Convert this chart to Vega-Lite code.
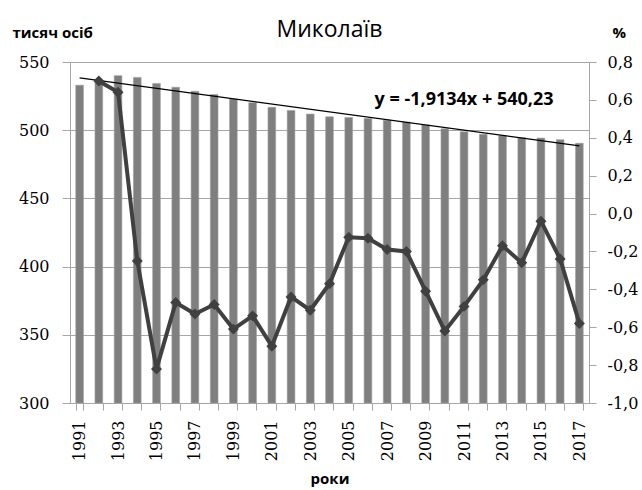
{
  "$schema": "https://vega.github.io/schema/vega-lite/v6.json",
  "width": 519,
  "height": 341,
  "autosize": {"type": "none"},
  "padding": {"left": 70, "top": 62, "right": 53, "bottom": 87},
  "background": "white",
  "config": {"view": {"stroke": null}},
  "title": {
    "text": "Миколаїв",
    "font": "Open Sans",
    "fontSize": 23,
    "fontWeight": "normal",
    "color": "#000000",
    "anchor": "middle",
    "offset": -17
  },
  "datasets": {
    "pop": [
      {"year": "1991", "pop": 533.0, "pct": null},
      {"year": "1992", "pop": 536.7, "pct": 0.70},
      {"year": "1993", "pop": 540.0, "pct": 0.64},
      {"year": "1994", "pop": 538.7, "pct": -0.25},
      {"year": "1995", "pop": 534.3, "pct": -0.82},
      {"year": "1996", "pop": 531.5, "pct": -0.47},
      {"year": "1997", "pop": 528.5, "pct": -0.53},
      {"year": "1998", "pop": 526.2, "pct": -0.48},
      {"year": "1999", "pop": 522.8, "pct": -0.61},
      {"year": "2000", "pop": 520.2, "pct": -0.54},
      {"year": "2001", "pop": 516.8, "pct": -0.70},
      {"year": "2002", "pop": 514.5, "pct": -0.44},
      {"year": "2003", "pop": 511.8, "pct": -0.51},
      {"year": "2004", "pop": 509.8, "pct": -0.37},
      {"year": "2005", "pop": 509.3, "pct": -0.125},
      {"year": "2006", "pop": 508.6, "pct": -0.13},
      {"year": "2007", "pop": 507.3, "pct": -0.19},
      {"year": "2008", "pop": 506.0, "pct": -0.20},
      {"year": "2009", "pop": 503.8, "pct": -0.41},
      {"year": "2010", "pop": 501.0, "pct": -0.62},
      {"year": "2011", "pop": 498.8, "pct": -0.49},
      {"year": "2012", "pop": 497.0, "pct": -0.35},
      {"year": "2013", "pop": 496.0, "pct": -0.17},
      {"year": "2014", "pop": 494.5, "pct": -0.26},
      {"year": "2015", "pop": 494.2, "pct": -0.04},
      {"year": "2016", "pop": 493.0, "pct": -0.24},
      {"year": "2017", "pop": 490.4, "pct": -0.58}
    ],
    "trend": [
      {"year": "1991", "trend": 538.32},
      {"year": "2017", "trend": 488.57}
    ],
    "eq": [
      {"year": "2011", "pop": 522, "label": "y = -1,9134x + 540,23"}
    ]
  },
  "layer": [
    {
      "layer": [
        {
          "data": {"name": "pop"},
          "mark": {"type": "bar", "color": "#7f7f7f", "stroke": "#a0a0a0", "strokeWidth": 0.6},
          "encoding": {
            "x": {
              "field": "year",
              "type": "ordinal",
              "scale": {"paddingInner": 0.6, "paddingOuter": 0.3},
              "axis": {
                "title": "роки",
                "titleFont": "Open Sans",
                "titleFontSize": 15,
                "titleFontWeight": "bold",
                "titleColor": "#000000",
                "titlePadding": 11,
                "labelAngle": -90,
                "labelAlign": "right",
                "labelBaseline": "middle",
                "labelFont": "DejaVu Serif",
                "labelFontSize": 16,
                "labelColor": "#000000",
                "labelPadding": 10,
                "labelExpr": "toNumber(datum.value) % 2 == 1 ? datum.value : ''",
                "tickBand": "extent",
                "tickSize": 7,
                "tickColor": "#a6a6a6",
                "domainColor": "#a6a6a6",
                "labelOverlap": false
              }
            },
            "y": {
              "field": "pop",
              "type": "quantitative",
              "scale": {"domain": [300, 550], "nice": false, "zero": false},
              "axis": {
                "title": "тисяч осіб",
                "titleFont": "Open Sans",
                "titleFontSize": 15,
                "titleFontWeight": "bold",
                "titleColor": "#000000",
                "titleAngle": 0,
                "titleAlign": "left",
                "titleBaseline": "middle",
                "titleX": -58,
                "titleY": -30,
                "values": [300, 350, 400, 450, 500, 550],
                "labelFont": "DejaVu Serif",
                "labelFontSize": 16,
                "labelColor": "#000000",
                "labelPadding": 13,
                "labelOverlap": false,
                "tickSize": 8,
                "tickColor": "#a6a6a6",
                "domainColor": "#a6a6a6",
                "grid": true,
                "gridColor": "#a6a6a6",
                "gridWidth": 1
              }
            },
            "y2": {"datum": 300}
          }
        },
        {
          "data": {"name": "trend"},
          "mark": {"type": "line", "color": "#000000", "strokeWidth": 1.2},
          "encoding": {
            "x": {"field": "year", "type": "ordinal"},
            "y": {"field": "trend", "type": "quantitative"}
          }
        },
        {
          "data": {"name": "eq"},
          "mark": {"type": "text", "font": "Open Sans", "fontSize": 18, "fontWeight": "bold", "color": "#000000", "align": "center", "baseline": "middle"},
          "encoding": {
            "x": {"field": "year", "type": "ordinal"},
            "y": {"field": "pop", "type": "quantitative"},
            "text": {"field": "label"}
          }
        }
      ]
    },
    {
      "data": {"name": "pop"},
      "transform": [{"filter": "datum.pct != null"}],
      "encoding": {
        "x": {"field": "year", "type": "ordinal"},
        "y": {
          "field": "pct",
          "type": "quantitative",
          "scale": {"domain": [-1, 0.8], "nice": false, "zero": false},
          "axis": {
            "orient": "right",
            "title": "%",
            "titleFont": "Open Sans",
            "titleFontSize": 15,
            "titleFontWeight": "bold",
            "titleColor": "#000000",
            "titleAngle": 0,
            "titleAlign": "left",
            "titleBaseline": "middle",
            "titleX": 23,
            "titleY": -30,
            "values": [-1, -0.8, -0.6, -0.4, -0.2, 0, 0.2, 0.4, 0.6, 0.8],
            "labelExpr": "replace(replace(format(datum.value, '.1f'), '.', ','), '\u2212', '-')",
            "labelFont": "DejaVu Serif",
            "labelFontSize": 16,
            "labelColor": "#000000",
            "labelPadding": 11,
            "labelOverlap": false,
            "labelBound": false,
            "labelFlush": false,
            "tickSize": 7,
            "tickColor": "#a6a6a6",
            "domainColor": "#a6a6a6",
            "grid": false
          }
        }
      },
      "layer": [
        {"mark": {"type": "line", "color": "#404040", "strokeWidth": 4}},
        {"mark": {"type": "point", "shape": "diamond", "filled": true, "color": "#404040", "size": 120, "opacity": 1}}
      ]
    }
  ],
  "resolve": {"scale": {"y": "independent"}}
}
